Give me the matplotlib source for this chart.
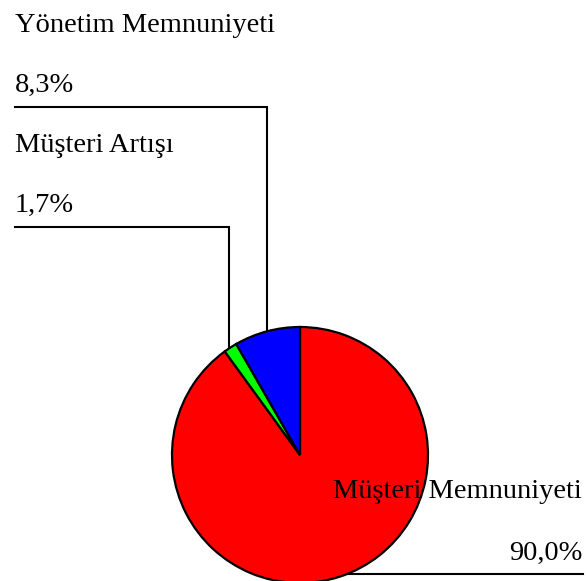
import matplotlib.pyplot as plt
import numpy as np

# pie data
labels = ['Müşteri Memnuniyeti', 'Müşteri Artışı', 'Yönetim Memnuniyeti']
values = [90.0, 1.7, 8.3]
colors = ['#ff0000', '#00ff00', '#0000ff']

W, H = 587, 581
cx, cy, r = 300, H - 455, 128


def pct(v):
    return ('%.1f' % v).replace('.', ',') + '%'


fig = plt.figure(figsize=(W / 100, H / 100), dpi=100)
ax = fig.add_axes([0, 0, 1, 1])

ax.pie(values, colors=colors, startangle=90, counterclock=False,
       center=(cx, cy), radius=r,
       wedgeprops=dict(edgecolor='black', linewidth=1.6))

ax.set_xlim(0, W)
ax.set_ylim(0, H)
ax.set_aspect('equal')
ax.axis('off')

font = dict(family='Liberation Serif', fontsize=20.5, color='black')
lw = 1.5

# left labels: (label index, name baseline, pct baseline, line y, line x end)
left = [(2, 32, 92, 107, 267), (1, 152, 212, 227, 229)]
for i, yname, ypct, yline, xend in left:
    ax.text(15, H - yname, labels[i], ha='left', va='baseline', **font)
    ax.text(15, H - ypct, pct(values[i]), ha='left', va='baseline', **font)
    ybot = cy + np.sqrt(r ** 2 - (xend - cx) ** 2)
    ax.plot([15, xend, xend], [H - yline, H - yline, ybot],
            color='black', lw=lw, solid_joinstyle='miter')

# right label
ax.text(582, H - 498, labels[0], ha='right', va='baseline', **font)
ax.text(582, H - 560, pct(values[0]), ha='right', va='baseline', **font)
yl = H - 574
xstart = cx + np.sqrt(r ** 2 - (yl - cy) ** 2)
ax.plot([xstart, 583], [yl, yl], color='black', lw=lw)

fig.savefig('out.png', dpi=100)
